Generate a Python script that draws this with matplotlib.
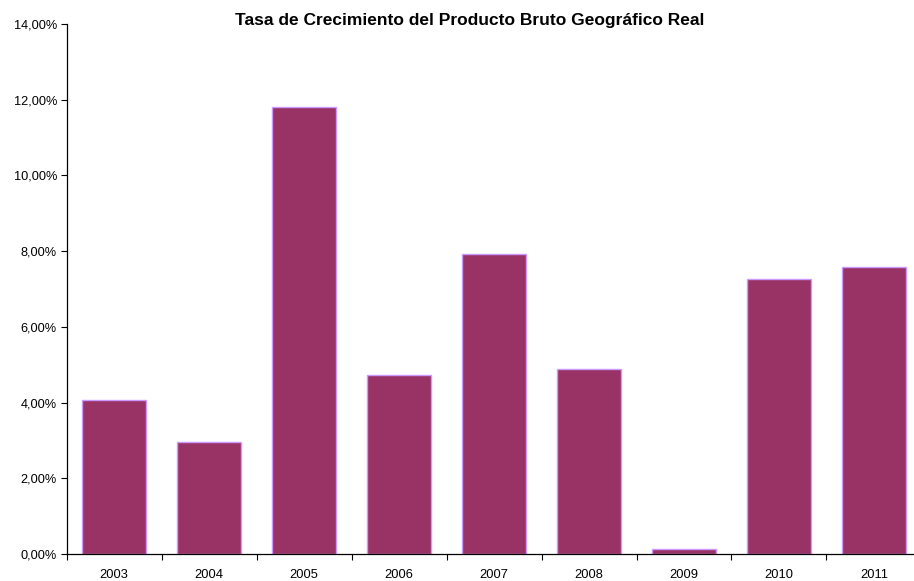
import matplotlib.pyplot as plt
from matplotlib.ticker import FuncFormatter

plt.rcParams['font.family'] = ['Liberation Sans', 'DejaVu Sans']

years = ['2003', '2004', '2005', '2006', '2007', '2008', '2009', '2010', '2011']
growth = [4.07, 2.97, 11.81, 4.73, 7.92, 4.89, 0.12, 7.27, 7.57]

W, H = 914, 581
fig = plt.figure(figsize=(W / 100, H / 100), dpi=100)
left, right = 66.7, 921.4
top, bottom = 24, 554
ax = fig.add_axes([left / W, 1 - bottom / H, (right - left) / W, (bottom - top) / H])

x = range(len(years))
ax.bar(x, growth, width=0.675, color='#993366', edgecolor='#cc99ff', linewidth=1.0)

ax.set_xlim(-0.5, len(years) - 0.5)
ax.set_ylim(0, 14)
ax.set_yticks(range(0, 15, 2))
ax.yaxis.set_major_formatter(FuncFormatter(lambda v, p: f'{v:.2f}%'.replace('.', ',')))
ax.set_xticks(x)
ax.set_xticklabels(years)
ax.set_xticks([i + 0.5 for i in range(-1, len(years))], minor=True)
ax.tick_params(axis='x', which='major', length=0, pad=10.5, labelsize=9.3)
ax.tick_params(axis='x', which='minor', length=4, direction='out', width=0.8)
ax.tick_params(axis='y', length=4, direction='out', width=0.8, labelsize=9.2, pad=3)

for s in ['top', 'right']:
    ax.spines[s].set_visible(False)
for s in ['left', 'bottom']:
    ax.spines[s].set_linewidth(0.9)

fig.text(470 / W, 1 - 21 / H, 'Tasa de Crecimiento del Producto Bruto Geográfico Real',
         ha='center', va='center', fontsize=12.5, fontweight='bold')

fig.savefig('out.png', dpi=100)
